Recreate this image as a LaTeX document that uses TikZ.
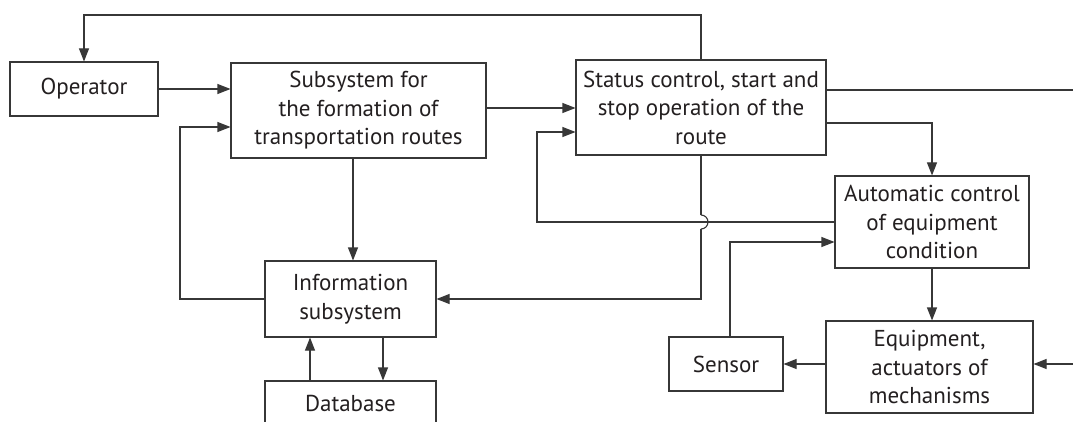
\documentclass[tikz,border=0pt]{standalone}
\usepackage{fontspec}
\setmainfont{PT Sans}
\usetikzlibrary{arrows.meta}
\definecolor{lncol}{RGB}{55,55,55}
\definecolor{tx}{RGB}{35,31,32}
\begin{document}
\begin{tikzpicture}[x=1pt,y=1pt,
  box/.style={draw=lncol,line width=1.1pt,rectangle,inner sep=0pt,align=center,
    text=tx,font=\fontsize{23}{28.5}\selectfont},
  arr/.style={draw=lncol,line width=1.1pt,-{Triangle[length=13pt,width=10pt]}},
  plain/.style={draw=lncol,line width=1.1pt}]
\useasboundingbox (0,0) rectangle (1073,-422);
\clip (0,0) rectangle (1073,-422);
\node[box,minimum width=148,minimum height=54] (operator) at (84,-89) {Operator};
\node[box,minimum width=255,minimum height=95] (subsystem) at (358.5,-110.5) {Subsystem for\\the formation of\\transportation routes};
\node[box,minimum width=250,minimum height=95] (status) at (701,-107.5) {Status control, start and\\stop operation of the\\route};
\node[box,minimum width=194,minimum height=92] (automatic) at (932,-222) {Automatic control\\of equipment\\condition};
\node[box,minimum width=171,minimum height=76] (info) at (350.5,-299) {Information\\subsystem};
\node[box,minimum width=171,minimum height=44] (database) at (350.5,-403) {Database};
\node[box,minimum width=114,minimum height=54] (sensor) at (726,-364) {Sensor};
\node[box,minimum width=207,minimum height=92] (equipment) at (929.5,-367) {Equipment,\\actuators of\\mechanisms};
% helper coordinates
\coordinate (top) at (0,-15);
\coordinate (lx) at (180,-127);
\coordinate (s1) at (0,-108);
\coordinate (c537) at (537,-132);
\coordinate (r90) at (1073,-90);
\coordinate (y123) at (0,-123);
\coordinate (x353) at (353,0);
\coordinate (x310) at (310,0);
\coordinate (x383) at (383,0);
\coordinate (sn) at (730,-242);
\coordinate (r364) at (1073,-364);
\coordinate (bumpa) at (701,-215);
\coordinate (bumpb) at (701,-229);
% connectors
\draw[arr] (status.north) -- (status.north |- top) -| (operator.north);
\draw[arr] (operator.east) -- (operator.east -| subsystem.west);
\draw[arr] (info.west) -| (lx) -- (lx -| subsystem.west);
\draw[arr] (subsystem.east |- s1) -- (status.west |- s1);
\draw[arr] (automatic.west) -| (c537) -- (c537 -| status.west);
\draw[plain] (status.east |- r90) -- (r90);
\draw[arr] (status.east |- y123) -| (automatic.north);
\draw[plain] (status.south) -- (bumpa);
\draw[plain] (bumpa) arc[start angle=90,end angle=-90,radius=7];
\draw[arr] (bumpb) -- (status.south |- info.east) -- (info.east);
\draw[arr] (subsystem.south -| x353) -- (info.north -| x353);
\draw[arr] (database.north -| x310) -- (info.south -| x310);
\draw[arr] (info.south -| x383) -- (database.north -| x383);
\draw[arr] (sensor.north -| sn) -- (sn) -- (sn -| automatic.west);
\draw[arr] (automatic.south) -- (automatic.south |- equipment.north);
\draw[arr] (equipment.west |- sensor.east) -- (sensor.east);
\draw[arr] (r364) -- (r364 -| equipment.east);
\end{tikzpicture}
\end{document}
